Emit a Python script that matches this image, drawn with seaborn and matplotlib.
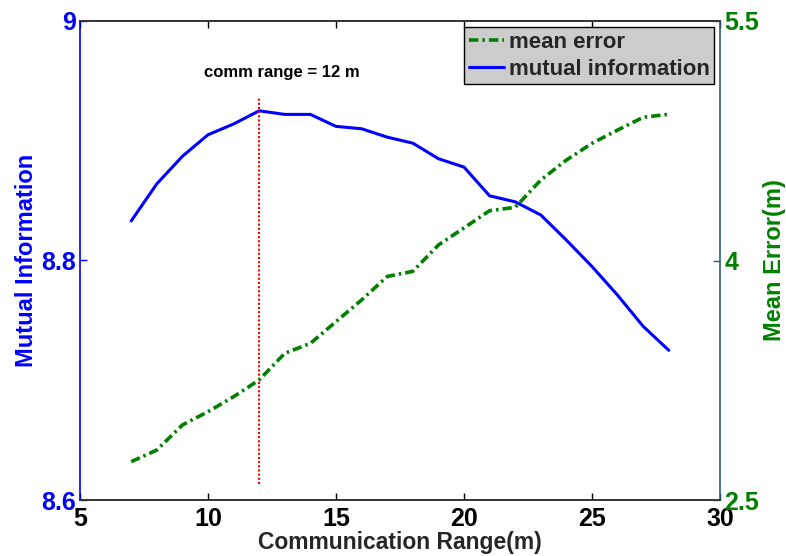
import matplotlib
matplotlib.use("Agg")
import matplotlib.pyplot as plt
import seaborn as sns
import numpy as np

sns.set_style("white")
plt.rcParams['font.family'] = ['Liberation Sans', 'DejaVu Sans']
plt.rcParams['font.weight'] = 'bold'

comm_range = [7, 8, 9, 10, 11, 12, 13, 14, 15, 16, 17, 18, 19, 20, 21, 22, 23, 24, 25, 26, 27, 28]
mutual_info = [8.833, 8.864, 8.887, 8.905, 8.914, 8.925, 8.922, 8.922, 8.912, 8.910, 8.903, 8.898,
               8.885, 8.878, 8.854, 8.849, 8.838, 8.817, 8.795, 8.771, 8.745, 8.725]
mean_error = [2.740, 2.813, 2.970, 3.053, 3.147, 3.252, 3.419, 3.481, 3.617, 3.753, 3.900, 3.932,
              4.097, 4.204, 4.312, 4.333, 4.504, 4.629, 4.734, 4.817, 4.897, 4.916]
best_range = 12
x_ticks = [5, 10, 15, 20, 25, 30]
left_ticks = [8.6, 8.8, 9.0]
left_tick_labels = ['8.6', '8.8', '9']
right_ticks = [2.5, 4.0, 5.5]
right_tick_labels = ['2.5', '4', '5.5']

fig = plt.figure(figsize=(7.86, 5.56), dpi=100)
ax = fig.add_axes([80/786, 1-500/556, 640/786, 479/556])
ax2 = ax.twinx()

sns.lineplot(x=comm_range, y=mutual_info, ax=ax, color='#0000ff', lw=2.2, legend=False)
sns.lineplot(x=comm_range, y=mean_error, ax=ax2, color='#008000', lw=2.6, legend=False)
ax2.lines[0].set_linestyle((0, (2.6, 1.1, 0.7, 1.1)))

ax.axvline(best_range, ymin=0.033, ymax=0.842, color='red', lw=1.5, ls=(0, (1, 1)))
ax.text(12.9, 8.957, 'comm range = 12 m', ha='center', va='center', fontsize=12, fontweight='bold', color='black')

ax.set_xlim(5, 30)
ax.set_ylim(8.6, 9.0)
ax2.set_ylim(2.5, 5.5)
ax.set_xticks(x_ticks)
ax.set_xticklabels([str(t) for t in x_ticks], fontsize=18, fontweight='bold')
ax.set_yticks(left_ticks)
ax.set_yticklabels(left_tick_labels, fontsize=18, fontweight='bold', color='#0000ff')
ax2.set_yticks(right_ticks)
ax2.set_yticklabels(right_tick_labels, fontsize=18, fontweight='bold', color='#008000')

ax.tick_params(axis='x', direction='in', length=5, top=True, bottom=True, pad=5, colors='black', width=1)
ax.tick_params(axis='y', direction='in', length=5, pad=3, colors='#0000ff', width=1)
ax2.tick_params(axis='y', direction='in', length=5, pad=3, colors='#2f5f7a', labelcolor='#008000', width=1)
for lab in ax.get_xticklabels():
    lab.set_color('black')
ax.set_xlabel('Communication Range(m)', fontsize=16.5, fontweight='bold', labelpad=0)
ax.set_ylabel('Mutual Information', fontsize=17, fontweight='bold', color='#0000ff', labelpad=2)
ax2.set_ylabel('Mean Error(m)', fontsize=17, fontweight='bold', color='#008000', labelpad=3)

for a in (ax, ax2):
    for s in a.spines.values():
        s.set_linewidth(1.2)
        s.set_color('#333333')
ax.spines['left'].set_color('#0000ff')
ax2.spines['left'].set_visible(False)
ax2.spines['right'].set_color('#2f5f7a')
ax.spines['right'].set_visible(False)

handles = [ax2.lines[0], ax.lines[0]]
labels = ['mean error', 'mutual information']
leg = ax2.legend(handles, labels, loc='upper right', bbox_to_anchor=(0.991, 0.987), fontsize=16,
                 frameon=True, fancybox=False, borderpad=0.2, labelspacing=0.28, handlelength=1.6,
                 handletextpad=0.2, borderaxespad=0)
leg.get_frame().set_facecolor('#cccccc')
leg.get_frame().set_edgecolor('black')
leg.get_frame().set_alpha(1)
leg.get_frame().set_linewidth(1)

fig.savefig('out.png', dpi=100)
